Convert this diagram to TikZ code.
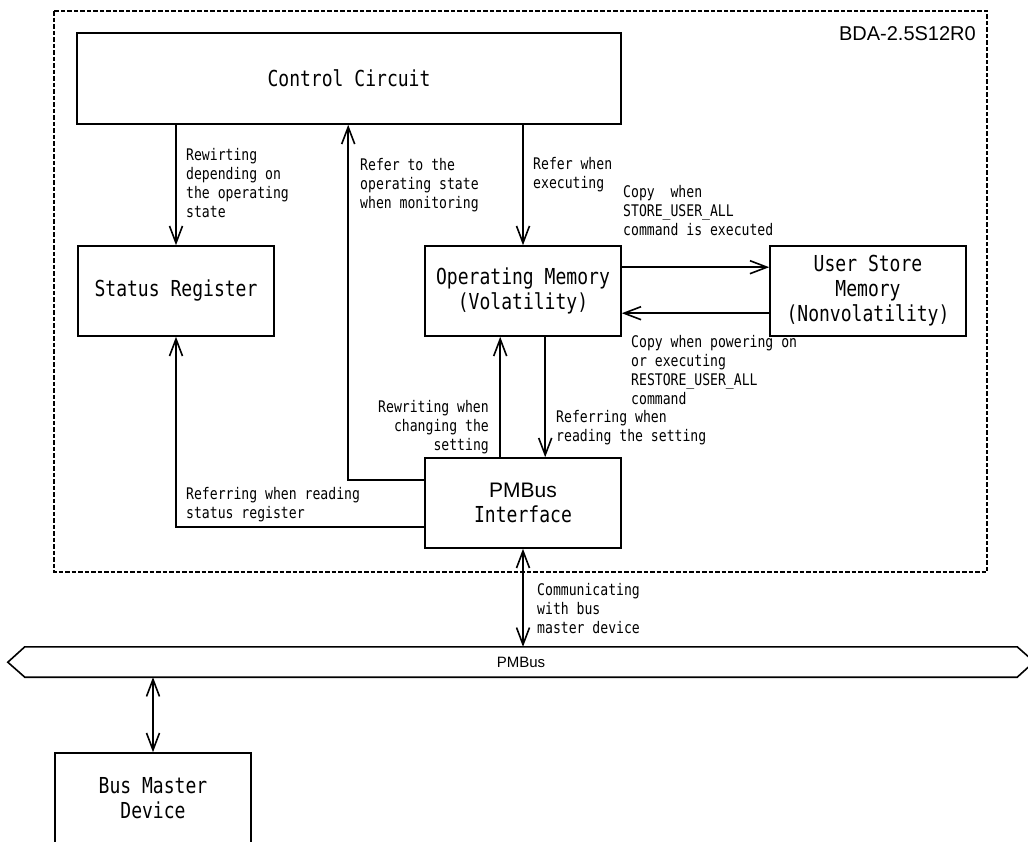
\documentclass[tikz,border=0pt]{standalone}
\usepackage{fontspec}
\setmainfont{Liberation Sans}
\newfontfamily\goth[FakeStretch=0.82]{DejaVu Sans Mono}
\newfontfamily\arial{Liberation Sans}
\usetikzlibrary{arrows.meta,calc}
\begin{document}
\begin{tikzpicture}[x=1pt,y=-1pt,
  >={Straight Barb[length=17pt,width=13pt]},
  box/.style={draw,line width=1.6pt,inner sep=0pt,align=center,minimum height=90pt,font=\goth\fontsize{22}{25}\selectfont},
  lbl/.style={inner sep=0pt,align=left,font=\goth\fontsize{16}{19}\selectfont},
  lblr/.style={inner sep=0pt,align=right,font=\goth\fontsize{16}{19}\selectfont},
  conn/.style={line width=1.6pt,->},
  conn2/.style={line width=1.6pt,<->},
]
\useasboundingbox (0,0) rectangle (1028,841);
\draw[line width=1.3pt,dash pattern=on 4.5pt off 2pt] (54,11) rectangle (987,572);
\node[anchor=base east,inner sep=0pt,font=\arial\fontsize{20}{24}\selectfont] (bda) at (976,40) {BDA-2.5S12R0};

\node[box,minimum width=544pt,minimum height=91pt] (cc) at (349,78.5) {Control Circuit};
\node[box,minimum width=196pt] (sr) at (176,291) {Status Register};
\node[box,minimum width=196pt] (om) at (523,291) {Operating Memory\\(Volatility)};
\node[box,minimum width=196pt] (us) at (868,291) {User Store\\Memory\\(Nonvolatility)};
\node[box,minimum width=196pt] (pi) at (523,503) {{\arial\fontsize{21}{25}\selectfont PMBus}\\Interface};
\node[box,minimum width=196pt] (bm) at (153,798) {Bus Master\\Device};

\node[inner sep=0pt,minimum width=992pt,minimum height=30pt,font=\arial\fontsize{15}{18}\selectfont] (bus) at (521,662) {PMBus};
\draw[line width=1.6pt] (bus.north west) -- (bus.north east) -- ++(17,15) -- (bus.south east) -- (bus.south west) -- ++(-17,-15) -- cycle;

\draw[conn] (cc.south -| sr.north) -- (sr.north);
\draw[conn] (cc.south -| om.north) -- (om.north);
\draw[conn] ($(pi.north west)+(0,23)$) -| ($(cc.south west)+(272,0)$);
\draw[conn] ($(pi.north west)+(76,0)$) -- ($(om.south west)+(76,0)$);
\draw[conn] ($(om.south west)+(121,0)$) -- ($(pi.north west)+(121,0)$);
\draw[conn] ($(om.north east)+(0,22)$) -- ($(us.north west)+(0,22)$);
\draw[conn] ($(us.north west)+(0,68)$) -- ($(om.north east)+(0,68)$);
\draw[conn] ($(pi.south west)+(0,-22)$) -| (sr.south);
\draw[conn2] (pi.south) -- (pi.south |- bus.north);
\draw[conn2] (bm.north) -- (bm.north |- bus.south);

\node[lbl,anchor=north west] (l1) at (186,148) {Rewirting\\depending on\\the operating\\state};
\node[lbl,anchor=north west] (l2) at (360,158) {Refer to the\\operating state\\when monitoring};
\node[lbl,anchor=north west] (l3) at (533,157) {Refer when\\executing};
\node[lbl,anchor=north west] (l4) at (623,185) {Copy\ \ when\\STORE\_USER\_ALL\\command is executed};
\node[lbl,anchor=north west] (l5) at (631,335) {Copy when powering on\\or executing\\RESTORE\_USER\_ALL\\command};
\node[lbl,anchor=north west] (l6) at (556,410) {Referring when\\reading the setting};
\node[lblr,anchor=north east] (l7) at (489,400) {Rewriting when\\changing the\\setting};
\node[lbl,anchor=north west] (l8) at (186,487) {Referring when reading\\status register};
\node[lbl,anchor=north west] (l9) at (537,583) {Communicating\\with bus\\master device};
\end{tikzpicture}
\end{document}
